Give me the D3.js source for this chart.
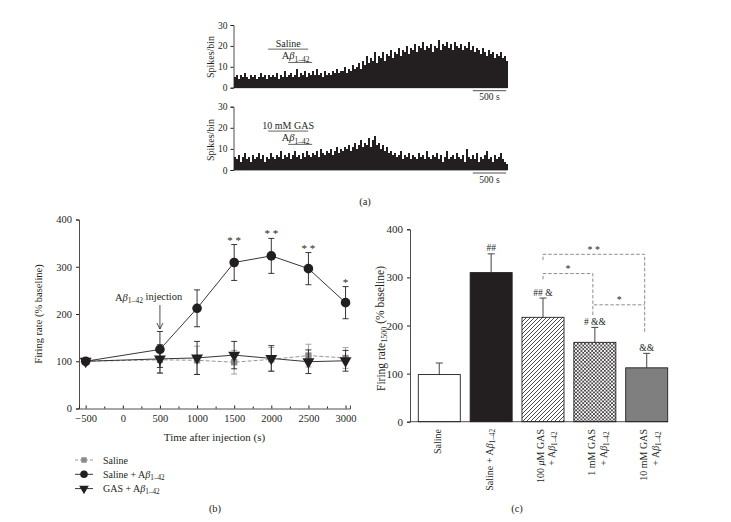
<!DOCTYPE html>
<html><head><meta charset="utf-8">
<script src="https://cdn.jsdelivr.net/npm/d3@7"></script>
<style>
body{margin:0;background:#fff}
svg{display:block}
text{font-family:"Liberation Serif","Times New Roman",serif;fill:#231f20}
</style>
</head><body>
<svg id="chart" width="731" height="522"></svg>
<script>
// ---------------- DATA ----------------
// (a) peri-stimulus histograms, 30 s bins
const histBinSeconds = 30;
const histSaline = [
5,6,4,6,5,7,5,4,6,5,6,4,5,7,5,6,4,6,5,6,
5,7,4,6,5,8,5,6,7,5,6,9,5,7,6,8,5,7,6,8,
6,9,6,7,5,8,6,7,6,8,7,9,7,8,8,10,7,9,8,11,
9,10,12,9,13,11,15,12,14,13,17,12,15,14,17,13,16,15,18,14,
17,16,19,15,18,17,20,16,19,18,21,17,20,19,22,18,20,19,21,17,
20,19,23,18,21,20,22,19,21,18,22,20,19,21,18,20,19,22,18,20,
17,19,18,16,19,17,15,18,16,17,14,16,15,17,14,15,13];
const histGas = [
6,5,7,4,6,8,5,6,4,7,5,6,8,5,7,4,6,5,8,6,
5,7,6,9,5,7,6,8,5,7,9,6,7,5,8,6,9,7,6,8,
7,9,6,10,8,7,9,8,10,7,9,11,8,10,9,11,10,12,9,11,
13,10,12,14,11,13,12,15,11,14,16,12,13,10,12,9,11,8,9,7,
8,6,7,9,5,7,6,8,5,7,6,5,8,6,7,5,9,6,5,7,
6,8,5,7,4,6,9,5,6,7,5,8,6,5,7,4,10,6,5,7,
5,8,4,6,5,7,9,5,6,4,7,5,6,8,5,4,3];
const histTicks = [0, 10, 20, 30];
const histTreatLabels = ["Saline", "10 mM GAS"];
const histTreatSpan = [520, 1120];   // s
const histAbSpan = [820, 1180];      // s
const histScaleBar = [3590, 4090];   // s  (500 s)

// (b) time course
const timePoints = [-500, 500, 1000, 1500, 2000, 2500, 3000];
const salineMean = [100, 103, 102, 98, 104, 112, 107];
const salineErr  = [0, 28, 30, 25, 25, 24, 22];
const abMean     = [100, 125, 212, 309, 323, 296, 224];
const abErr      = [0, 38, 39, 38, 37, 34, 34];
const gasMean    = [100, 105, 107, 113, 106, 99, 101];
const gasErr     = [0, 30, 35, 29, 27, 25, 22];
const abSig      = ["", "", "", "* *", "* *", "* *", "*"];
const timeTicks  = [-500, 0, 500, 1000, 1500, 2000, 2500, 3000];
const timeMinorTicks = d3.range(-500, 3001, 250);
const rateTicks  = [0, 100, 200, 300, 400];
const injectionTime = 500;

// (c) bar chart
const groupKeys   = ["sal", "salab", "g100", "g1", "g10"];
const groupLabels = [["Saline"], ["Saline + {Ab}"], ["100 {mu}M GAS", "+ {Ab}"], ["1 mM GAS", "+ {Ab}"], ["10 mM GAS", "+ {Ab}"]];
const barMean = [98, 310, 217, 165, 112];
const barErr  = [24, 39, 40, 31, 30];
const barSig  = ["", "##", "## &", "# &&", "&&"];
const brackets = [
  {a: 2, b: 4, y: 348, ya: 336, yb: 184, label: "* *"},
  {a: 2, b: 3, y: 308, ya: 296, yb: 220, label: "*"},
  {a: 3, b: 4, y: 243, ya: 243, yb: 243, label: "*"}
];

// ---------------- HELPERS ----------------
const svg = d3.select("#chart");
svg.append("rect").attr("width", 731).attr("height", 522).attr("fill", "#fff");
const INK = "#231f20";

function richText(sel, str) {
  // supports {Ab} => Aβ1–42 and {mu} => μ
  const parts = str.split(/(\{Ab\}|\{mu\})/).filter(s => s.length);
  let restore = false;
  const add = (txt, italic) => {
    const t = sel.append("tspan").text(txt);
    if (italic) t.attr("font-style", "italic");
    if (restore) { t.attr("dy", "-0.3em"); restore = false; }
    return t;
  };
  parts.forEach(p => {
    if (p === "{Ab}") {
      add("A");
      add("β", true);
      sel.append("tspan").attr("font-size", "72%").attr("dy", "0.3em").text("1–42");
      restore = true;
    } else if (p === "{mu}") {
      add("μ", true);
    } else {
      add(p);
    }
  });
  return sel;
}

// ---------------- (a) HISTOGRAMS ----------------
const histX = d3.scaleLinear().domain([0, histSaline.length * histBinSeconds]).range([233.5, 507.5]);

function drawHist(data, yBottom, yTop, treatLabel, cy) {
  const y = d3.scaleLinear().domain([0, 30]).range([yBottom, yTop]);
  const g = svg.append("g");
  g.selectAll("rect").data(data).join("rect")
    .attr("x", (d, i) => histX(i * histBinSeconds))
    .attr("width", (d, i) => histX((i + 1) * histBinSeconds) - histX(i * histBinSeconds) + 0.5)
    .attr("y", d => y(d))
    .attr("height", d => y(0) - y(d))
    .attr("fill", INK)
    .attr("shape-rendering", "crispEdges");
  const ax = g.append("g").attr("transform", `translate(${histX(0)},0)`)
    .call(d3.axisLeft(y).tickValues(histTicks).tickSize(3).tickPadding(3));
  ax.select(".domain").attr("stroke", INK).attr("stroke-width", 0.8);
  ax.selectAll(".tick line").attr("stroke", INK);
  ax.selectAll("text").attr("font-size", 9.5).attr("font-family", '"Liberation Serif",serif').attr("fill", INK);
  // baseline
  g.append("line").attr("x1", histX(0)).attr("x2", histX(data.length * histBinSeconds))
    .attr("y1", y(0)).attr("y2", y(0)).attr("stroke", INK).attr("stroke-width", 0.8);
  // y label
  g.append("text").attr("transform", `translate(214,${cy}) rotate(-90)`)
    .attr("text-anchor", "middle").attr("font-size", 10).text("Spikes/bin");
  // treatment annotations
  const tl = y(0) - (y(0) - yTop) * 0.615;
  g.append("text").attr("x", histX((histTreatSpan[0] + histTreatSpan[1]) / 2)).attr("y", tl - 2)
    .attr("text-anchor", "middle").attr("font-size", 10).text(treatLabel);
  g.append("line").attr("x1", histX(histTreatSpan[0])).attr("x2", histX(histTreatSpan[1]))
    .attr("y1", tl).attr("y2", tl).attr("stroke", INK).attr("stroke-width", 0.7);
  const al = tl + 13.3;
  richText(g.append("text").attr("x", histX(histAbSpan[0]) - 6.5).attr("y", al - 3).attr("font-size", 10.5), "{Ab}");
  g.append("line").attr("x1", histX(histAbSpan[0])).attr("x2", histX(histAbSpan[1]))
    .attr("y1", al).attr("y2", al).attr("stroke", INK).attr("stroke-width", 0.7);
  // scale bar
  g.append("line").attr("x1", histX(histScaleBar[0])).attr("x2", histX(histScaleBar[1]))
    .attr("y1", y(0) + 3).attr("y2", y(0) + 3).attr("stroke", INK).attr("stroke-width", 0.8);
  g.append("text").attr("x", histX((histScaleBar[0] + histScaleBar[1]) / 2)).attr("y", y(0) + 12.5)
    .attr("text-anchor", "middle").attr("font-size", 9.5).text("500 s");
}
drawHist(histSaline, 87.7, 25, histTreatLabels[0], 57);
drawHist(histGas, 170, 106.7, histTreatLabels[1], 140);
svg.append("text").attr("x", 365).attr("y", 205).attr("text-anchor", "middle").attr("font-size", 10.5).text("(a)");

// ---------------- (b) TIME COURSE ----------------
const xb = d3.scaleLinear().domain([-590, 3060]).range([79, 350]);
const yb = d3.scaleLinear().domain([0, 400]).range([408.5, 219.5]);
const gb = svg.append("g");

const axXb = gb.append("g").attr("transform", `translate(0,${yb(0)})`)
  .call(d3.axisBottom(xb).tickValues(timeTicks).tickSize(-3).tickPadding(6).tickFormat(d => d < 0 ? "−" + Math.abs(d) : d));
gb.append("g").attr("transform", `translate(0,${yb(0)})`)
  .call(d3.axisBottom(xb).tickValues(timeMinorTicks.filter(t => !timeTicks.includes(t))).tickSize(-2).tickFormat(""))
  .call(g => g.select(".domain").remove()).selectAll("line").attr("stroke", INK);
const axYb = gb.append("g").attr("transform", `translate(${xb.range()[0]},0)`)
  .call(d3.axisLeft(yb).tickValues(rateTicks).tickSize(3).tickPadding(4));
[axXb, axYb].forEach(a => {
  a.select(".domain").attr("stroke", INK).attr("stroke-width", 0.8);
  a.selectAll(".tick line").attr("stroke", INK);
  a.selectAll("text").attr("font-size", 10.5).attr("font-family", '"Liberation Serif",serif').attr("fill", INK);
});
gb.append("text").attr("x", (xb(-590) + xb(3060)) / 2).attr("y", 441).attr("text-anchor", "middle")
  .attr("font-size", 11).text("Time after injection (s)");
gb.append("text").attr("transform", `translate(42,${(yb(0) + yb(400)) / 2}) rotate(-90)`)
  .attr("text-anchor", "middle").attr("font-size", 10.5).text("Firing rate (% baseline)");

function series(mean, err, color, dash, sym, symSize, errColor) {
  const pts = timePoints.map((t, i) => ({t, m: mean[i], e: err[i]}));
  const g = gb.append("g");
  g.append("path").datum(pts)
    .attr("d", d3.line().x(d => xb(d.t)).y(d => yb(d.m)))
    .attr("fill", "none").attr("stroke", color).attr("stroke-width", 0.9).attr("stroke-dasharray", dash);
  const eb = g.selectAll("g.eb").data(pts.filter(d => d.e > 0)).join("g");
  eb.append("line").attr("x1", d => xb(d.t)).attr("x2", d => xb(d.t))
    .attr("y1", d => yb(d.m - d.e)).attr("y2", d => yb(d.m + d.e)).attr("stroke", errColor).attr("stroke-width", 0.9);
  [1, -1].forEach(s => eb.append("line").attr("x1", d => xb(d.t) - 3).attr("x2", d => xb(d.t) + 3)
    .attr("y1", d => yb(d.m + s * d.e)).attr("y2", d => yb(d.m + s * d.e)).attr("stroke", errColor).attr("stroke-width", 0.9));
  g.selectAll("path.sym").data(pts).join("path").attr("class", "sym")
    .attr("transform", d => `translate(${xb(d.t)},${yb(d.m)})` + (sym === d3.symbolTriangle ? " rotate(180)" : ""))
    .attr("d", d3.symbol().type(sym).size(symSize)).attr("fill", color);
  return pts;
}
series(salineMean, salineErr, "#8a8a8a", "4,2", d3.symbolSquare, 40, "#9a9a9a");
series(gasMean, gasErr, INK, null, d3.symbolTriangle, 62, INK);
const abPts = series(abMean, abErr, INK, null, d3.symbolCircle, 72, INK);
gb.selectAll("text.sig").data(abPts.map((d, i) => ({...d, s: abSig[i]})).filter(d => d.s)).join("text")
  .attr("x", d => xb(d.t)).attr("y", d => yb(d.m + d.e) - 1).attr("text-anchor", "middle")
  .attr("font-size", 11).text(d => d.s);

// injection arrow
const ix = xb(injectionTime);
richText(gb.append("text").attr("x", 115).attr("y", 301).attr("font-size", 10.5), "{Ab} injection");
gb.append("line").attr("x1", ix).attr("x2", ix).attr("y1", 305).attr("y2", 329).attr("stroke", INK).attr("stroke-width", 0.8);
gb.append("path").attr("d", `M${ix - 3},${323} L${ix},${329} L${ix + 3},${323}`).attr("fill", "none").attr("stroke", INK).attr("stroke-width", 0.8);

// legend
const legend = [
  {label: "Saline", color: "#8a8a8a", dash: "3,2", sym: d3.symbolSquare, size: 30, rot: 0},
  {label: "Saline + {Ab}", color: INK, dash: null, sym: d3.symbolCircle, size: 45, rot: 0},
  {label: "GAS + {Ab}", color: INK, dash: null, sym: d3.symbolTriangle, size: 40, rot: 180}
];
legend.forEach((l, i) => {
  const y = 460 + i * 14.3;
  gb.append("line").attr("x1", 75).attr("x2", 93).attr("y1", y).attr("y2", y)
    .attr("stroke", l.color).attr("stroke-width", 0.9).attr("stroke-dasharray", l.dash);
  gb.append("path").attr("transform", `translate(84,${y}) rotate(${l.rot})`).attr("d", d3.symbol().type(l.sym).size(l.size)).attr("fill", l.color);
  richText(gb.append("text").attr("x", 103).attr("y", y + 3.5).attr("font-size", 10), l.label);
});
svg.append("text").attr("x", 215).attr("y", 512).attr("text-anchor", "middle").attr("font-size", 10.5).text("(b)");

// ---------------- (c) BAR CHART ----------------
const defs = svg.append("defs");
const p1 = defs.append("pattern").attr("id", "hatch").attr("patternUnits", "userSpaceOnUse").attr("width", 4).attr("height", 4);
p1.append("rect").attr("width", 4).attr("height", 4).attr("fill", "#fff");
p1.append("path").attr("d", "M-1,1 L1,-1 M0,4 L4,0 M3,5 L5,3").attr("stroke", INK).attr("stroke-width", 0.8);
const p2 = defs.append("pattern").attr("id", "cross").attr("patternUnits", "userSpaceOnUse").attr("width", 3.6).attr("height", 3.6);
p2.append("rect").attr("width", 3.6).attr("height", 3.6).attr("fill", "#fff");
p2.append("path").attr("d", "M-1,1 L1,-1 M0,3.6 L3.6,0 M2.6,4.6 L4.6,2.6 M0,0 L3.6,3.6 M-1,2.6 L1,4.6 M2.6,-1 L4.6,1").attr("stroke", INK).attr("stroke-width", 0.75);
const barFill = ["#fff", INK, "url(#hatch)", "url(#cross)", "#7f7f7f"];

const xc = d3.scaleBand().domain(groupKeys).range([418.3, 667.7]).paddingInner(0.19).paddingOuter(0);
const yc = d3.scaleLinear().domain([0, 400]).range([421.7, 229.3]);
const gc = svg.append("g");
const bars = groupKeys.map((k, i) => ({k, m: barMean[i], e: barErr[i], s: barSig[i], f: barFill[i]}));

// error bars (upper only)
gc.selectAll("line.eb").data(bars).join("line").attr("class", "eb")
  .attr("x1", d => xc(d.k) + xc.bandwidth() / 2).attr("x2", d => xc(d.k) + xc.bandwidth() / 2)
  .attr("y1", d => yc(d.m)).attr("y2", d => yc(d.m + d.e)).attr("stroke", "#555").attr("stroke-width", 1.1);
gc.selectAll("line.cap").data(bars).join("line").attr("class", "cap")
  .attr("x1", d => xc(d.k) + xc.bandwidth() / 2 - 3.5).attr("x2", d => xc(d.k) + xc.bandwidth() / 2 + 3.5)
  .attr("y1", d => yc(d.m + d.e)).attr("y2", d => yc(d.m + d.e)).attr("stroke", "#555").attr("stroke-width", 1.1);
gc.selectAll("rect.bar").data(bars).join("rect").attr("class", "bar")
  .attr("x", d => xc(d.k)).attr("width", xc.bandwidth())
  .attr("y", d => yc(d.m)).attr("height", d => yc(0) - yc(d.m))
  .attr("fill", d => d.f).attr("stroke", INK).attr("stroke-width", 0.9);
gc.selectAll("text.sig").data(bars.filter(d => d.s)).join("text").attr("class", "sig")
  .attr("x", d => xc(d.k) + xc.bandwidth() / 2).attr("y", d => yc(d.m + d.e) - 2.5)
  .attr("text-anchor", "middle").attr("font-size", 9.5).text(d => d.s);

// axes
const axYc = gc.append("g").attr("transform", "translate(410,0)")
  .call(d3.axisLeft(yc).tickValues(rateTicks).tickSize(3).tickPadding(4));
axYc.select(".domain").attr("stroke", INK).attr("stroke-width", 0.8);
axYc.selectAll(".tick line").attr("stroke", INK);
axYc.selectAll("text").attr("font-size", 11).attr("font-family", '"Liberation Serif",serif').attr("fill", INK);
gc.append("line").attr("x1", 410).attr("x2", 668).attr("y1", yc(0)).attr("y2", yc(0)).attr("stroke", INK).attr("stroke-width", 0.8);

const yl = gc.append("text").attr("transform", `translate(385,${(yc(0) + yc(400)) / 2 + 3}) rotate(-90)`)
  .attr("text-anchor", "middle").attr("font-size", 11.5);
yl.append("tspan").text("Firing rate");
yl.append("tspan").attr("font-size", "70%").attr("dy", "0.3em").text("1500");
yl.append("tspan").attr("dy", "-0.3em").text(" (% baseline)");

// rotated category labels
groupLabels.forEach((lines, i) => {
  const cx = xc(groupKeys[i]) + xc.bandwidth() / 2;
  lines.forEach((ln, j) => {
    const x = lines.length === 1 ? cx - 2 : cx - 3 + j * 11.5;
    const t = gc.append("text").attr("transform", `translate(${x},${429 + j * 2.5}) rotate(-90)`)
      .attr("text-anchor", "end").attr("dy", "0.35em").attr("font-size", 10);
    richText(t, ln);
  });
});

// significance brackets
const gBr = gc.append("g").attr("fill", "none").attr("stroke", "#808080").attr("stroke-width", 0.9).attr("stroke-dasharray", "3.5,2");
brackets.forEach(b => {
  const xa = xc(groupKeys[b.a]) + xc.bandwidth() / 2;
  const xbb = xc(groupKeys[b.b]) + xc.bandwidth() / 2 - 2;
  const xA = b.a === 3 ? xc(groupKeys[3]) + xc.bandwidth() / 2 - 1 : xa;
  gBr.append("path").attr("d", `M${xA},${yc(b.ya)} L${xA},${yc(b.y)} L${xbb},${yc(b.y)} L${xbb},${yc(b.yb)}`);
  gc.append("text").attr("x", (xA + xbb) / 2).attr("y", yc(b.y) - 1.5).attr("text-anchor", "middle")
    .attr("font-size", 10).attr("fill", "#555").text(b.label);
});
svg.append("text").attr("x", 517).attr("y", 512).attr("text-anchor", "middle").attr("font-size", 10.5).text("(c)");
</script>
</body></html>
